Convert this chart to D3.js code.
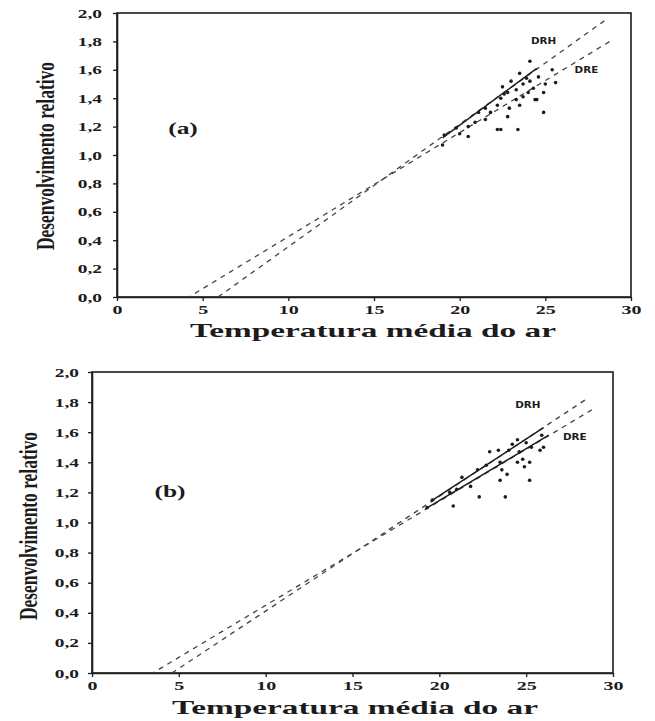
<!DOCTYPE html>
<html>
<head>
<meta charset="utf-8">
<script src="https://cdn.jsdelivr.net/npm/d3@7"></script>
<style>
  body { margin: 0; background: #fff; }
  svg { display: block; }
</style>
</head>
<body>
<div id="chart"></div>
<script>
// eixos
const tempTicks = [0, 5, 10, 15, 20, 25, 30];
const devTicks = [0, 0.2, 0.4, 0.6, 0.8, 1.0, 1.2, 1.4, 1.6, 1.8, 2.0];

// painel (a): pontos observados [temperatura, desenvolvimento]
const pontosA = [
  [24.1, 1.66], [23.5, 1.575], [23.9, 1.54], [24.1, 1.52], [23.7, 1.50], [24.6, 1.55],
  [25.4, 1.60], [25.6, 1.51], [24.9, 1.44], [24.5, 1.39], [24.9, 1.30], [22.5, 1.48],
  [22.8, 1.44], [23.3, 1.46], [22.4, 1.40], [23.3, 1.39], [23.7, 1.41], [22.2, 1.35],
  [22.9, 1.33], [23.5, 1.35], [21.8, 1.30], [22.8, 1.27], [21.5, 1.25], [20.9, 1.23],
  [21.1, 1.30], [22.2, 1.18], [22.4, 1.18], [23.4, 1.18], [20.5, 1.13], [19.8, 1.19],
  [19.1, 1.14], [19.0, 1.07], [20.0, 1.15], [24.3, 1.47], [24.0, 1.44], [25.0, 1.50],
  [23.0, 1.52], [22.6, 1.43], [21.5, 1.33], [20.5, 1.20], [24.4, 1.39]
];
// painel (a): retas DRH e DRE
const drhA_tracejada = [[5.9, 0], [28.5, 1.95]];
const drhA_continua = [[19.0, 1.12], [24.5, 1.61]];
const dreA_tracejada = [[4.2, 0], [28.9, 1.81]];

// painel (b)
const pontosB = [
  [24.5, 1.55], [24.6, 1.47], [22.9, 1.47], [23.4, 1.48], [24.0, 1.48], [25.0, 1.53],
  [25.8, 1.48], [24.8, 1.42], [25.2, 1.40], [24.5, 1.40], [23.5, 1.40], [23.6, 1.35],
  [23.9, 1.32], [23.5, 1.28], [25.2, 1.28], [22.3, 1.17], [23.8, 1.17], [20.8, 1.11],
  [21.8, 1.24], [21.3, 1.30], [22.7, 1.38], [22.2, 1.35], [19.3, 1.10], [19.6, 1.15],
  [26.0, 1.50], [25.9, 1.58], [24.2, 1.52], [25.3, 1.50], [24.9, 1.37], [20.6, 1.20],
  [21.0, 1.22]
];
const drhB_tracejada = [[4.6, 0], [28.6, 1.83]];
const drhB_continua = [[19.5, 1.14], [26.0, 1.63]];
const dreB_tracejada = [[3.5, 0], [28.8, 1.75]];
const dreB_continua = [[19.2, 1.09], [26.3, 1.58]];

const xTitulo = "Temperatura média do ar";
const yTitulo = "Desenvolvimento relativo";

const W = 655, H = 721;
const svg = d3.select("#chart").append("svg").attr("width", W).attr("height", H);
const ink = "#1c1c1c";
const serif = "'Liberation Serif', 'Times New Roman', serif";

function drawPanel(p) {
  const x = d3.scaleLinear().domain([0, 30]).range([p.left, p.right]);
  const y = d3.scaleLinear().domain([0, 2]).range([p.bottom, p.top]);
  const g = svg.append("g");

  // moldura
  g.append("rect")
    .attr("x", p.left).attr("y", p.top)
    .attr("width", p.right - p.left).attr("height", p.bottom - p.top)
    .attr("fill", "none").attr("stroke", ink).attr("stroke-width", 1.6);

  const ax = g.append("g").attr("transform", `translate(0,${p.bottom})`)
    .call(d3.axisBottom(x).tickValues(tempTicks).tickSize(4).tickSizeOuter(0));
  ax.selectAll("text").attr("y", 8).attr("x", 0).attr("transform", "scale(1.6,1)");

  const ay = g.append("g").attr("transform", `translate(${p.left},0)`)
    .call(d3.axisLeft(y).tickValues(devTicks).tickSize(4).tickSizeOuter(0)
      .tickFormat(d => d.toFixed(1).replace(".", ",")));
  ay.selectAll("text").attr("x", -p.gap / 1.55).attr("transform", "scale(1.55,1)");

  [ax, ay].forEach(a => {
    a.select(".domain").attr("stroke", ink).attr("stroke-width", 1.6);
    a.selectAll(".tick line").attr("stroke", ink).attr("stroke-width", 1.3);
    a.selectAll("text").attr("fill", ink).style("font-family", serif)
      .style("font-weight", "bold").style("font-size", "12.5px");
  });

  const line = d3.line().x(d => x(d[0])).y(d => y(d[1]));
  p.tracejadas.forEach((seg, i) => {
    g.append("path").attr("d", line(seg)).attr("fill", "none")
      .attr("stroke", "#444").attr("stroke-width", 1.3)
      .attr("stroke-dasharray", "5,5").attr("stroke-dashoffset", i * 3);
  });
  p.continuas.forEach(seg => {
    g.append("path").attr("d", line(seg)).attr("fill", "none")
      .attr("stroke", ink).attr("stroke-width", 1.5);
  });

  g.selectAll("circle.pt").data(p.pontos).enter().append("circle")
    .attr("class", "pt")
    .attr("cx", d => x(d[0])).attr("cy", d => y(d[1]))
    .attr("r", 1.8).attr("fill", ink);

  // rótulos DRH / DRE
  p.rotulos.forEach(r => {
    g.append("text").attr("transform", `translate(${x(r.at[0])},${y(r.at[1])}) scale(1.3,1)`)
      .attr("text-anchor", "middle").attr("fill", ink)
      .style("font-family", "'DejaVu Sans', sans-serif").style("font-weight", "bold")
      .style("font-size", "8px").text(r.t);
  });

  // letra do painel
  g.append("text").attr("transform", `translate(${p.letra[0]},${p.letra[1]}) scale(1.5,1)`)
    .attr("text-anchor", "middle").attr("fill", ink)
    .style("font-family", serif).style("font-weight", "bold").style("font-size", "17px")
    .text(p.nome);

  // títulos dos eixos
  g.append("text").attr("x", p.xt[0]).attr("y", p.xt[1])
    .attr("text-anchor", "middle").attr("fill", ink)
    .attr("textLength", 366).attr("lengthAdjust", "spacingAndGlyphs")
    .style("font-family", serif).style("font-weight", "bold").style("font-size", "19px")
    .text(xTitulo);

  g.append("text")
    .attr("transform", `translate(${p.yt[0]},${p.yt[1]}) scale(1.3,1) rotate(-90)`)
    .attr("text-anchor", "middle").attr("dy", "0.35em").attr("fill", ink)
    .attr("textLength", 188).attr("lengthAdjust", "spacingAndGlyphs")
    .style("font-family", serif).style("font-weight", "bold").style("font-size", "19px")
    .text(yTitulo);
}

drawPanel({
  left: 117, right: 631, top: 13, bottom: 297, gap: 15,
  pontos: pontosA,
  tracejadas: [drhA_tracejada, dreA_tracejada],
  continuas: [drhA_continua],
  rotulos: [{ t: "DRH", at: [24.9, 1.78] }, { t: "DRE", at: [27.4, 1.58] }],
  nome: "(a)", letra: [183, 134],
  xt: [373, 337], yt: [45, 156]
});

drawPanel({
  left: 92, right: 613, top: 372, bottom: 673, gap: 13,
  pontos: pontosB,
  tracejadas: [drhB_tracejada, dreB_tracejada],
  continuas: [drhB_continua, dreB_continua],
  rotulos: [{ t: "DRH", at: [25.1, 1.76] }, { t: "DRE", at: [27.8, 1.55] }],
  nome: "(b)", letra: [170, 497],
  xt: [355, 714], yt: [28, 526]
});
</script>
</body>
</html>
